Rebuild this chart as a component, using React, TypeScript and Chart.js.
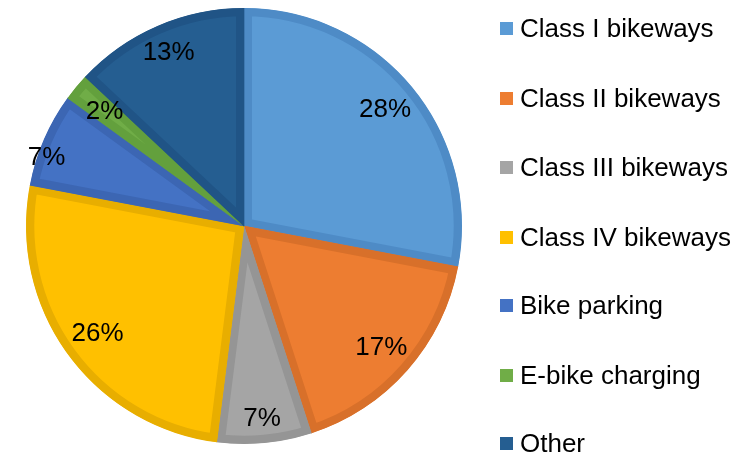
import React, { useEffect, useRef } from "react";
import { Chart, registerables } from "chart.js";

Chart.register(...registerables);

const categories = [
  "Class I bikeways",
  "Class II bikeways",
  "Class III bikeways",
  "Class IV bikeways",
  "Bike parking",
  "E-bike charging",
  "Other",
];
const shares = [28, 17, 7, 26, 7, 2, 13];

const fillColors = ["#5B9BD5", "#ED7D31", "#A5A5A5", "#FFC000", "#4472C4", "#70AD47", "#255E91"];
const borderColors = ["#4E8BC6", "#D8702A", "#959595", "#E8AE00", "#3C66B3", "#63A03D", "#205486"];
const labelRadiusFrac = [0.84, 0.84, 0.885, 0.83, 0.96, 0.83, 0.87];
const labelAngleNudgeDeg = [0, 0, 0, 0, -4, 0, 0];

const FONT = '"Liberation Sans", Arial, sans-serif';

const labelPlugin = {
  id: "pctLabels",
  afterDatasetsDraw(chart: any) {
    const ctx = chart.ctx;
    const meta = chart.getDatasetMeta(0);
    ctx.save();
    ctx.font = `26px ${FONT}`;
    ctx.fillStyle = "#000000";
    ctx.textAlign = "center";
    ctx.textBaseline = "middle";
    meta.data.forEach((arc: any, i: number) => {
      const { x, y, startAngle, endAngle, outerRadius } = arc.getProps(
        ["x", "y", "startAngle", "endAngle", "outerRadius"],
        true
      );
      const mid = (startAngle + endAngle) / 2 + (labelAngleNudgeDeg[i] * Math.PI) / 180;
      const r = outerRadius * labelRadiusFrac[i];
      ctx.fillText(`${shares[i]}%`, x + Math.cos(mid) * r, y + Math.sin(mid) * r + 1);
    });
    ctx.restore();
  },
};

export default function App() {
  const canvasRef = useRef<HTMLCanvasElement | null>(null);

  useEffect(() => {
    document.body.style.margin = "0";
    const chart = new Chart(canvasRef.current as HTMLCanvasElement, {
      type: "pie",
      data: {
        labels: categories,
        datasets: [
          {
            data: shares,
            backgroundColor: fillColors,
            borderColor: borderColors,
            borderWidth: 8,
            borderAlign: "inner",
          } as any,
        ],
      },
      options: {
        animation: false,
        responsive: false,
        maintainAspectRatio: false,
        layout: { padding: { left: 26, top: 8, right: 271, bottom: 10 } },
        plugins: {
          legend: { display: false },
          tooltip: { enabled: false },
        },
      },
      plugins: [labelPlugin],
    });
    return () => chart.destroy();
  }, []);

  const legendTops = [28, 98, 167, 237, 305, 375, 443];

  return (
    <div style={{ position: "relative", width: 733, height: 454, overflow: "hidden", background: "#fff" }}>
      <canvas ref={canvasRef} width={733} height={454} style={{ position: "absolute", left: 0, top: 0 }} />
      {categories.map((c, i) => (
        <div
          key={c}
          style={{
            position: "absolute",
            left: 500,
            top: legendTops[i] - 15,
            height: 30,
            display: "flex",
            alignItems: "center",
            fontFamily: FONT,
            fontSize: 26,
            color: "#000",
            whiteSpace: "nowrap",
          }}
        >
          <span style={{ display: "inline-block", width: 13, height: 13, background: fillColors[i], marginRight: 7 }} />
          <span>{c}</span>
        </div>
      ))}
    </div>
  );
}
